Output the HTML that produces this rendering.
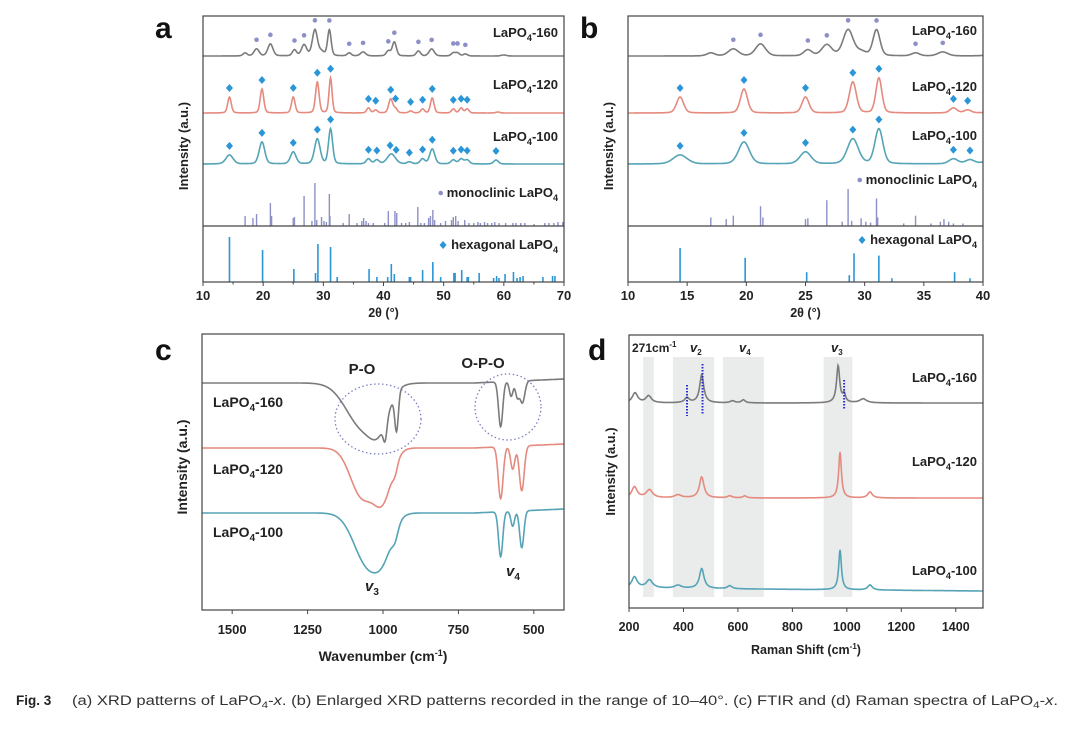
<!DOCTYPE html>
<html><head><meta charset="utf-8">
<style>
html,body{margin:0;padding:0;background:#fff;}
svg{display:block;font-family:"Liberation Sans",Arial,sans-serif;}
</style></head>
<body>
<svg id="fig" width="1080" height="729" viewBox="0 0 1080 729" xmlns="http://www.w3.org/2000/svg">
</svg>
<script>
// ---------- DATA ----------
// XRD peaks: [2theta, height, half-width]
const xrd160Peaks=[[17,3,.4],[18.9,7,.5],[21.2,12,.5],[25.2,6,.4],[26.8,11,.5],[28.6,26,.5],[29.7,4,.5],[31.0,26,.35],[34.3,3,.4],[36.6,4,.5],[40.8,5,.4],[41.8,14,.4],[45.8,5,.4],[48.0,7,.5],[51.6,3,.4],[52.3,3,.4],[53.6,2,.4],[60,1,.5]];
const xrd120Peaks=[[14.4,16,.35],[19.8,24,.35],[25,16,.35],[29,31,.35],[31.2,35,.3],[37.5,5,.35],[38.7,3,.35],[41.2,14,.4],[42,4,.35],[44.5,2,.35],[46.5,4,.35],[48.1,15,.35],[51.6,4,.35],[52.9,5,.35],[53.9,4,.35],[59,1,.4]];
const xrd100Peaks=[[14.4,9,.7],[19.8,22,.55],[25,12,.55],[29,25,.55],[31.2,35,.4],[37.5,5,.45],[38.9,4,.45],[41.3,10,.8],[44.3,2,.45],[46.5,5,.45],[48.1,15,.5],[51.6,4,.45],[52.9,5,.45],[53.9,4,.45],[58.7,4,.45]];
const xrdBaselines=[170,113,62];
const monoMarks160=[18.9,21.2,25.2,26.8,28.6,31.0,34.3,36.6,40.8,41.8,45.8,48.0,51.6,52.3,53.6];
const hexMarks120=[14.4,19.8,25,29,31.2,37.5,38.7,41.2,42,44.5,46.5,48.1,51.6,52.9,53.9];
const hexMarks100=[14.4,19.8,25,29,31.2,37.5,38.9,41.1,42.1,44.3,46.5,48.1,51.6,52.9,53.9,58.7];
const monoSticks=[[17,10],[18.3,8],[18.9,12],[21.2,23],[21.4,10],[25,8],[25.2,9],[26.8,30],[28.1,5],[28.6,43],[28.9,6],[29.7,9],[30.1,5],[30.5,4],[31,32],[31.1,10],[33.3,3],[34.3,12],[35.6,3],[36.4,5],[36.7,8],[37.1,5],[37.5,3],[38.3,3],[40.2,3],[40.8,15],[41.9,15],[42.2,13],[43,3],[43.7,3],[44.3,4],[45.7,19],[46.2,3],[46.8,3],[47.5,8],[47.8,10],[48.2,16],[48.5,6],[49.5,3],[50.3,5],[51.3,6],[51.6,9],[52,10],[52.4,5],[53.5,6],[54.2,3],[55,3],[55.7,4],[56.1,3],[56.8,4],[57.3,3],[58,3],[58.5,4],[59.2,3],[60.3,3],[61.5,3],[62,3],[62.8,3],[63.5,3],[65,2],[66.8,3],[67.5,3],[68.3,3],[69,4],[69.8,4]];
const hexSticks=[[14.4,45],[19.9,32],[25.1,13],[28.7,9],[29.1,38],[31.2,35],[32.3,5],[37.6,13],[38.9,5],[40.7,5],[41.3,18],[41.8,8],[44.3,5],[44.5,5],[46.5,12],[48.2,20],[49.5,5],[51.7,9],[51.9,9],[53,12],[53.9,5],[54.1,5],[55.9,9],[58.3,4],[58.8,6],[59.2,4],[60.2,8],[61.6,10],[62.2,4],[62.7,5],[63.2,6],[66.5,5],[68.1,6],[68.5,6]];
const xrdTicksA=[10,20,30,40,50,60,70];
const xrdTicksB=[10,15,20,25,30,35,40];
// FTIR dips: [wavenumber, depth, sigma]
const ftir160Dips=[[1065,45,55],[1010,25,30],[993,18,6],[955,38,6],[610,45,7],[575,15,6],[555,15,6],[538,22,8]];
const ftir120Dips=[[1070,48,38],[1000,48,30],[960,8,8],[610,52,8],[570,23,7],[540,45,8]];
const ftir100Dips=[[1050,52,45],[995,25,30],[960,10,10],[610,45,7],[570,15,6],[540,37,7]];
const ftirBaselines=[383,448,513];
const ftirTicks=[1500,1250,1000,750,500];
// Raman peaks: [shift, height, halfwidth]
const raman160Peaks=[[222,10,12],[272,7,12],[413,5,10],[467,28,9],[580,2,10],[620,3,8],[968,37,7],[990,8,6],[1060,4,15]];
const raman120Peaks=[[220,11,12],[275,8,14],[380,3,15],[467,21,10],[570,2,10],[625,2,8],[975,46,6],[1085,6,10]];
const raman100Peaks=[[220,11,12],[275,8,14],[380,3,15],[467,20,10],[570,3,10],[975,40,6],[1085,5,10]];
const ramanBaselines=[403,498,588];
const ramanTicks=[200,400,600,800,1000,1200,1400];
const ramanBands=[[252,291],[361,513],[545,695],[915,1020]];
const ramanDotted=[[413,385,416],[470,364,414],[990,380,410]];

const GRAY='#7b7b7b',RED='#e58a7e',TEAL='#55a4b6',MONO='#8c90c6',HEX='#2a96d8';
const NS='http://www.w3.org/2000/svg';
const svg=document.getElementById('fig');
function el(tag,attrs,parent){const e=document.createElementNS(NS,tag);for(const k in attrs)e.setAttribute(k,attrs[k]);(parent||svg).appendChild(e);return e;}
function txt(x,y,html,size,anchor,parent,extra){const t=el('text',Object.assign({x:x,y:y,'font-size':size,'font-weight':'bold','text-anchor':anchor||'start',fill:'#222'},extra||{}),parent);t.innerHTML=html;return t;}
const sub=(n,s)=>`LaPO<tspan dy="4" font-size="${s*0.7}">4</tspan><tspan dy="-4">${n}</tspan>`;

function lor(x,p){let s=0;for(const [c,h,w] of p){const d=(x-c)/w;s+=h/(1+d*d);}return s;}
function pv(x,p){let s=0;for(const [c,h,w] of p){const d=(x-c)/w;s+=h*(0.75*Math.exp(-0.693*d*d)+0.25/(1+d*d));}return s;}
function gau(x,p){let s=0;for(const [c,h,w] of p){const d=(x-c)/w;s+=h*Math.exp(-0.5*d*d);}return s;}

// ---------- XRD panel ----------
function xrdPanel(name,L,R,xmin,xmax,ticks,minor,stickMax,letter,labY){
  const g=el('g',{});
  
  
  const T=16,S=226,B=282;
  const X=v=>L+(v-xmin)/(xmax-xmin)*(R-L);
  const Y=v=>S-v;
  const series=[[xrd160Peaks,GRAY,'xrd-160'],[xrd120Peaks,RED,'xrd-120'],[xrd100Peaks,TEAL,'xrd-100']];
  series.forEach(([pk,col,nm],i)=>{
    let d='';for(let px=0;px<=R-L;px+=0.5){const v=xmin+px/(R-L)*(xmax-xmin);d+=(px?'L':'M')+X(v).toFixed(1)+','+Y(xrdBaselines[i]+pv(v,pk)).toFixed(1);}
    const p=el('path',{d:d,fill:'none',stroke:col,'stroke-width':1.6},g);
    
    
  });
  const marks=[[monoMarks160,xrd160Peaks,0,'circle'],[hexMarks120,xrd120Peaks,1,'diamond'],[hexMarks100,xrd100Peaks,2,'diamond']];
  marks.forEach(([ms,pk,i,shape])=>{ms.forEach(m=>{if(m>xmax)return;const x=X(m),y=Y(xrdBaselines[i]+pv(m,pk))-9;
    let e;if(shape==='circle')e=el('circle',{cx:x,cy:y,r:2.3,fill:MONO},g);else e=el('path',{d:`M${x},${y-4}L${x+3.5},${y}L${x},${y+4}L${x-3.5},${y}Z`,fill:HEX},g);
    
    });});
  monoSticks.forEach(([p,h])=>{if(p>xmax)return;const s=el('line',{x1:X(p),x2:X(p),y1:S,y2:S-h*stickMax[0]/43,stroke:MONO,'stroke-width':1.4},g);
    
    });
  hexSticks.forEach(([p,h])=>{if(p>xmax)return;const s=el('line',{x1:X(p),x2:X(p),y1:B,y2:B-h*stickMax[1]/45,stroke:HEX,'stroke-width':1.6},g);
    
    });
  el('rect',{x:L,y:T,width:R-L,height:B-T,fill:'none',stroke:'#444','stroke-width':1.2},g);
  el('line',{x1:L,x2:R,y1:S,y2:S,stroke:'#444','stroke-width':1.2},g);
  ticks.forEach(t=>{el('line',{x1:X(t),x2:X(t),y1:B,y2:B+4,stroke:'#444'},g);const tl=txt(X(t),B+18,String(t),13,'middle',g);
    
    });
  minor.forEach(t=>el('line',{x1:X(t),x2:X(t),y1:B,y2:B+2.5,stroke:'#444'},g));
  const at=txt((L+R)/2,B+35,'2θ (°)',12.5,'middle',g);
  
  
  const yt=txt(0,0,'Intensity (a.u.)',13,'middle',g,{transform:`translate(${L-15},${(T+S)/2+25}) rotate(-90)`});
  
  
  const lt=txt(L-48,38,letter,30,'start',g,{fill:'#111'});
  
  
  const labs=[['-160',labY[0]],['-120',labY[1]],['-100',labY[2]]];
  labs.forEach(([n,y])=>{const t=txt(R-6,y+4,sub(n,13),13,'end',g);});
  const m1=txt(R-6,labY[3]+4,'monoclinic '+sub('',13),13,'end',g);
  
  
  const m2=txt(R-6,labY[4]+4,'hexagonal '+sub('',13),13,'end',g);
  
  
  const w1=m1.getComputedTextLength(),w2=m2.getComputedTextLength();
  el('circle',{cx:R-6-w1-6,cy:labY[3],r:2.3,fill:MONO},g);
  const hx=R-6-w2-8,hy=labY[4];
  el('path',{d:`M${hx},${hy-4}L${hx+3.5},${hy}L${hx},${hy+4}L${hx-3.5},${hy}Z`,fill:HEX},g);
}
xrdPanel('panel-a-xrd',203,564,10,70,xrdTicksA,[15,25,35,45,55,65],[43,45],'a',[33,85,137,193,245]);
xrdPanel('panel-b-xrd-enlarged',628,983,10,40,xrdTicksB,[],[37,34],'b',[31,87,136,180,240]);

// ---------- FTIR panel ----------
(function(){
  const g=el('g',{});
  
  
  const L=202,R=564,T=334,B=610,xmin=1600,xmax=400;
  const X=v=>L+(xmin-v)/(xmin-xmax)*(R-L);
  const series=[[ftir160Dips,GRAY,'ftir-160'],[ftir120Dips,RED,'ftir-120'],[ftir100Dips,TEAL,'ftir-100']];
  series.forEach(([dp,col,nm],i)=>{
    let d='';for(let px=0;px<=R-L;px+=0.5){const v=xmin-px/(R-L)*(xmin-xmax);const slope=(v<700?-(700-v)/300*4:0);
      d+=(px?'L':'M')+(L+px).toFixed(1)+','+(ftirBaselines[i]+slope+gau(v,dp)).toFixed(1);}
    const p=el('path',{d:d,fill:'none',stroke:col,'stroke-width':1.6},g);
    
    
  });
  el('ellipse',{cx:378,cy:419,rx:43,ry:35,fill:'none',stroke:'#7a7fc0','stroke-width':1.3,'stroke-dasharray':'1.5 2.5'},g);
  el('ellipse',{cx:508,cy:407,rx:33,ry:33,fill:'none',stroke:'#7a7fc0','stroke-width':1.3,'stroke-dasharray':'1.5 2.5'},g);
  txt(362,374,'P-O',15,'middle',g);
  txt(483,368,'O-P-O',15,'middle',g);
  txt(372,591,'<tspan font-style="italic">v</tspan><tspan dy="4" font-size="10">3</tspan>',15,'middle',g);
  txt(513,576,'<tspan font-style="italic">v</tspan><tspan dy="4" font-size="10">4</tspan>',15,'middle',g);
  [[402,'-160'],[469,'-120'],[532,'-100']].forEach(([y,n])=>{const t=txt(213,y+5,sub(n,14),14,'start',g);});
  el('rect',{x:L,y:T,width:R-L,height:B-T,fill:'none',stroke:'#444','stroke-width':1.2},g);
  ftirTicks.forEach(t=>{el('line',{x1:X(t),x2:X(t),y1:B,y2:B+4,stroke:'#444'},g);const tl=txt(X(t),B+24,String(t),13,'middle',g);
    
    });
  const at=txt((L+R)/2,B+51,'Wavenumber (cm<tspan dy="-5" font-size="9">-1</tspan><tspan dy="5">)</tspan>',14,'middle',g);
  
  
  const yt=txt(0,0,'Intensity (a.u.)',14,'middle',g,{transform:`translate(${L-15},${(T+B)/2-5}) rotate(-90)`});
  
  
  const lt=txt(155,360,'c',30,'start',g,{fill:'#111'});
  
  
})();

// ---------- Raman panel ----------
(function(){
  const g=el('g',{});
  
  
  const L=629,R=983,T=335,B=608,xmin=200,xmax=1500;
  const X=v=>L+(v-xmin)/(xmax-xmin)*(R-L);
  ramanBands.forEach(([a,b])=>{const r=el('rect',{x:X(a),y:357,width:X(b)-X(a),height:240,fill:'#e9eceb'},g);
    
    });
  const series=[[raman160Peaks,GRAY,'raman-160'],[raman120Peaks,RED,'raman-120'],[raman100Peaks,TEAL,'raman-100']];
  series.forEach(([pk,col,nm],i)=>{
    let d='';for(let px=0;px<=R-L;px+=0.5){const v=xmin+px/(R-L)*(xmax-xmin);
      d+=(px?'L':'M')+(L+px).toFixed(1)+','+(ramanBaselines[i]-lor(v,pk)+(i==2?(v-200)/1300*3:0)).toFixed(1);}
    const p=el('path',{d:d,fill:'none',stroke:col,'stroke-width':1.6},g);
    
    
  });
  ramanDotted.forEach(([v,y1,y2])=>{const l=el('line',{x1:X(v),x2:X(v),y1:y1,y2:y2,stroke:'#2b2bd0','stroke-width':2,'stroke-dasharray':'1.5 1.5'},g);
    
    });
  txt(632,352,'271cm<tspan dy="-5" font-size="8">-1</tspan>',12,'start',g);
  txt(690,352,'<tspan font-style="italic">v</tspan><tspan dy="3" font-size="8">2</tspan>',13,'start',g);
  txt(739,352,'<tspan font-style="italic">v</tspan><tspan dy="3" font-size="8">4</tspan>',13,'start',g);
  txt(831,352,'<tspan font-style="italic">v</tspan><tspan dy="3" font-size="8">3</tspan>',13,'start',g);
  [[377,'-160'],[461,'-120'],[570,'-100']].forEach(([y,n])=>{const t=txt(977,y+5,sub(n,13),13,'end',g);});
  el('rect',{x:L,y:T,width:R-L,height:B-T,fill:'none',stroke:'#444','stroke-width':1.2},g);
  ramanTicks.forEach(t=>{el('line',{x1:X(t),x2:X(t),y1:B,y2:B+4,stroke:'#444'},g);const tl=txt(X(t),B+23,String(t),12.5,'middle',g);
    
    });
  const at=txt((L+R)/2,B+46,'Raman Shift (cm<tspan dy="-5" font-size="8">-1</tspan><tspan dy="5">)</tspan>',12.5,'middle',g);
  
  
  const yt=txt(0,0,'Intensity (a.u.)',13,'middle',g,{transform:`translate(${L-14},${(T+B)/2}) rotate(-90)`});
  
  
  const lt=txt(588,360,'d',30,'start',g,{fill:'#111'});
  
  
})();

// ---------- caption ----------
const c1=el('text',{x:16,y:705,'font-size':13.5,'font-weight':'bold',fill:'#222'});


c1.textContent='Fig. 3';
const c2=el('text',{x:72,y:705,'font-size':13.5,fill:'#333',textLength:986,lengthAdjust:'spacingAndGlyphs'});


c2.innerHTML='(a) XRD patterns of LaPO<tspan dy="3" font-size="9.5">4</tspan><tspan dy="-3">-</tspan><tspan font-style="italic">x</tspan>. (b) Enlarged XRD patterns recorded in the range of 10–40°. (c) FTIR and (d) Raman spectra of LaPO<tspan dy="3" font-size="9.5">4</tspan><tspan dy="-3">-</tspan><tspan font-style="italic">x</tspan>.';
</script>
</body></html>
